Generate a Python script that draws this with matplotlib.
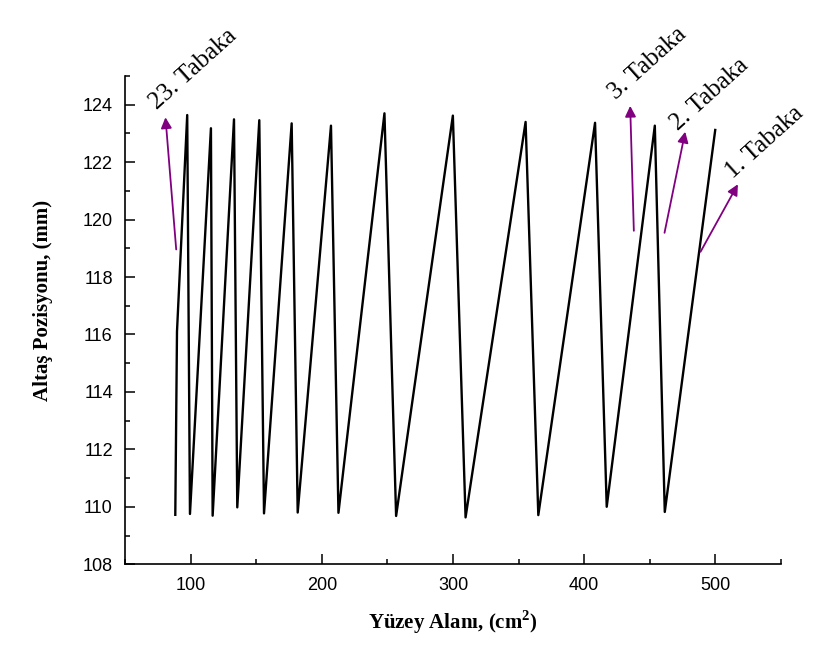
import matplotlib
matplotlib.use("Agg")
import matplotlib.pyplot as plt
from matplotlib.ticker import MultipleLocator

plt.rcParams["mathtext.fontset"] = "custom"
plt.rcParams["mathtext.rm"] = "Liberation Serif"

# ----------------------------
# DATA
# ----------------------------
surface_area = [88.1, 89.4, 97.2, 99.3, 115.3, 116.6, 132.9, 135.4, 152.2, 155.8,
                176.9, 181.5, 206.9, 212.6, 247.7, 256.6, 299.9, 309.6, 355.4,
                365.1, 408.4, 417.3, 454.0, 461.6, 500.1]
substrate_pos = [109.72, 116.1, 123.64, 109.75, 123.18, 109.69, 123.49, 109.98,
                 123.46, 109.77, 123.35, 109.80, 123.27, 109.79, 123.70, 109.68,
                 123.62, 109.63, 123.40, 109.71, 123.37, 110.00, 123.27, 109.82,
                 123.12]

layer_labels = ["23. Tabaka", "3. Tabaka", "2. Tabaka", "1. Tabaka"]
arrow_tail = [(88.8, 118.96), (438.0, 119.61), (461.4, 119.54), (488.9, 118.88)]
arrow_head = [(80.6, 123.56), (435.2, 123.96), (477.2, 123.06), (517.4, 121.23)]
label_pos = [(74.5, 123.8), (424.5, 124.15), (472.0, 123.1), (514.0, 121.4)]

x_ticks = [100, 200, 300, 400, 500]
y_ticks = [108, 110, 112, 114, 116, 118, 120, 122, 124]

# ----------------------------
# PLOT
# ----------------------------
fig = plt.figure(figsize=(8.14, 6.51), dpi=100)
ax = fig.add_axes([0.154, 0.1333, 0.805, 0.750])

ax.plot(surface_area, substrate_pos, color="black", lw=1.7)

arrow_color = "#800080"
for text, tail, head, pos in zip(layer_labels, arrow_tail, arrow_head, label_pos):
    ax.annotate("", xy=head, xytext=tail,
                arrowprops=dict(arrowstyle="-|>", color=arrow_color, lw=1.3,
                                mutation_scale=16, shrinkA=0, shrinkB=0))
    ax.text(pos[0], pos[1], text, rotation=42, rotation_mode="anchor",
            ha="left", va="baseline", fontsize=18, family="Liberation Serif",
            clip_on=False)

ax.set_xlim(50, 550)
ax.set_ylim(108, 125)
ax.set_xticks(x_ticks)
ax.set_yticks(y_ticks)
ax.xaxis.set_minor_locator(MultipleLocator(50))
ax.yaxis.set_minor_locator(MultipleLocator(1))

for side in ["top", "right"]:
    ax.spines[side].set_visible(False)
for side in ["left", "bottom"]:
    ax.spines[side].set_linewidth(1.2)

ax.tick_params(which="major", direction="in", length=7, width=1.1, pad=9,
               labelsize=13)
ax.tick_params(which="minor", direction="in", length=3.5, width=1.1)
for lbl in ax.get_xticklabels() + ax.get_yticklabels():
    lbl.set_family("Liberation Sans")

ax.set_xlabel("Yüzey Alanı, (cm$^\\mathregular{2}$)", family="Liberation Serif",
              fontsize=15, fontweight="bold")
ax.set_ylabel("Altaş Pozisyonu, (mm)", family="Liberation Serif",
              fontsize=15, fontweight="bold")
ax.xaxis.set_label_coords(0.5, -0.09)
ax.yaxis.set_label_coords(-0.11, 0.54)

fig.savefig("out.png", dpi=100)
